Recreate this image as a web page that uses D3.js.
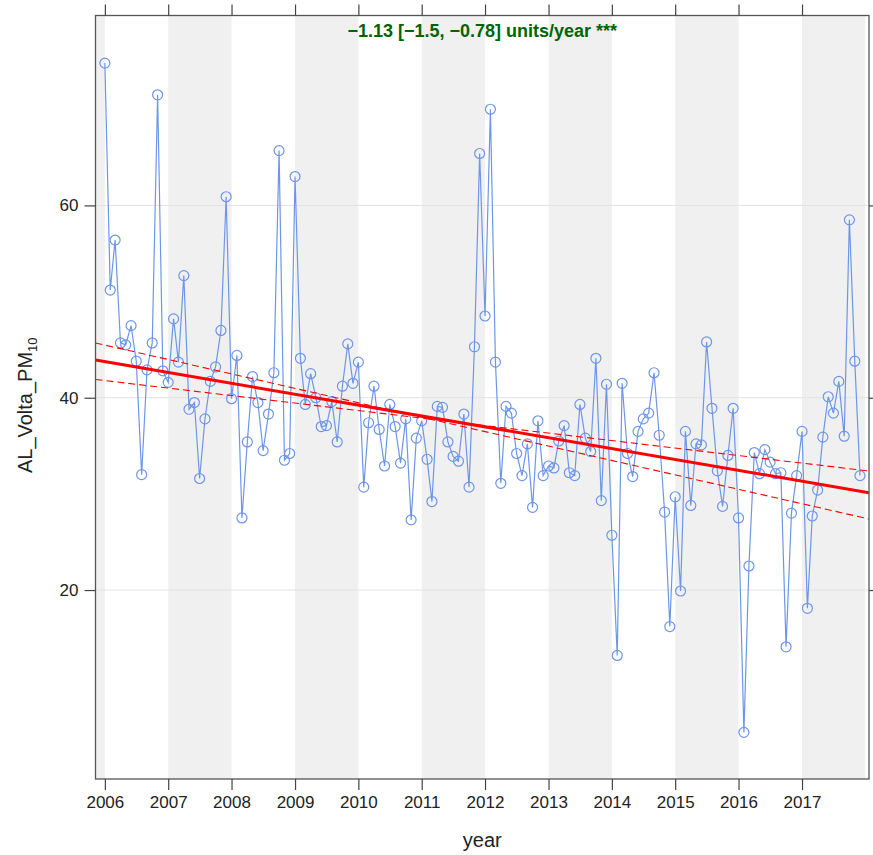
<!DOCTYPE html>
<html>
<head>
<meta charset="utf-8">
<script src="https://cdn.jsdelivr.net/npm/d3@7"></script>
<style>
  body { margin: 0; background: #fff; }
  svg { display: block; font-family: "Liberation Sans", Arial, sans-serif; }
</style>
</head>
<body>
<svg id="chart" width="873" height="855"></svg>
<script>
// ---- data ----
const years = [2006, 2007, 2008, 2009, 2010, 2011, 2012, 2013, 2014, 2015, 2016, 2017];
const values2006 = [74.8, 51.2, 56.4, 45.7, 45.5, 47.5, 43.8, 32.0, 42.9, 45.7, 71.5, 42.8];
const values2007 = [41.6, 48.2, 43.7, 52.7, 38.8, 39.5, 31.6, 37.8, 41.7, 43.2, 47.0, 60.9];
const values2008 = [39.9, 44.4, 27.5, 35.4, 42.2, 39.5, 34.5, 38.3, 42.6, 65.7, 33.5, 34.2];
const values2009 = [63.0, 44.1, 39.3, 42.5, 40.0, 37.0, 37.1, 39.6, 35.4, 41.2, 45.6, 41.5];
const values2010 = [43.7, 30.7, 37.4, 41.2, 36.7, 32.9, 39.3, 37.0, 33.2, 37.8, 27.3, 35.8];
const values2011 = [37.6, 33.6, 29.2, 39.1, 39.0, 35.4, 33.9, 33.4, 38.3, 30.7, 45.3, 65.4];
const values2012 = [48.5, 70.0, 43.7, 31.1, 39.1, 38.4, 34.2, 31.9, 35.2, 28.6, 37.6, 31.9];
const values2013 = [32.9, 32.7, 35.5, 37.1, 32.2, 31.9, 39.3, 35.8, 34.4, 44.1, 29.3, 41.4];
const values2014 = [25.7, 13.2, 41.5, 34.2, 31.8, 36.5, 37.8, 38.4, 42.6, 36.1, 28.1, 16.2];
const values2015 = [29.7, 19.9, 36.5, 28.8, 35.2, 35.1, 45.8, 38.9, 32.4, 28.7, 34.0, 38.9];
const values2016 = [27.5, 5.2, 22.5, 34.3, 32.1, 34.6, 33.3, 32.1, 32.2, 14.1, 28.0, 31.9];
const values2017 = [36.5, 18.1, 27.7, 30.4, 35.9, 40.1, 38.4, 41.7, 36.0, 58.5, 43.8, 31.9];
const monthlyValues = [values2006, values2007, values2008, values2009, values2010, values2011,
  values2012, values2013, values2014, values2015, values2016, values2017];

// Theil-Sen trend: slope and bounds (units/year), value at 2006-01-01, pivot years for CI lines
const trendSlope = -1.13;
const trendLower = -1.5;
const trendUpper = -0.78;
const trendAt2006 = 43.75;
const lowerPivot = 4.66;   // years after 2006 where lower-slope line meets trend
const upperPivot = 5.62;   // years after 2006 where upper-slope line meets trend

const yTicks = [20, 40, 60];
const titleText = "\u22121.13 [\u22121.5, \u22120.78] units/year ***";
const yLabelMain = "AL_Volta_PM";
const yLabelSub = "10";
const xLabel = "year";

// ---- layout ----
const L = 95.5, R = 869, T = 15.5, B = 779;
const svg = d3.select("#chart");

const data = [];
years.forEach((yr, i) => monthlyValues[i].forEach((v, m) => data.push({ date: new Date(yr, m, 1), value: v })));

const x = d3.scaleTime()
  .domain([new Date(2005, 10, 8), new Date(2018, 0, 22)])
  .range([L, R]);
const y = d3.scaleLinear().domain([0.35, 79.75]).range([B, T]);

// clip
svg.append("defs").append("clipPath").attr("id", "clip")
  .append("rect").attr("x", L).attr("y", T).attr("width", R - L).attr("height", B - T);

const plot = svg.append("g").attr("clip-path", "url(#clip)");

// alternating year bands (odd years + leading 2005 sliver)
const bandYears = [2005, 2007, 2009, 2011, 2013, 2015, 2017];
plot.selectAll("rect.band").data(bandYears).enter().append("rect")
  .attr("class", "band")
  .attr("x", d => x(new Date(d, 0, 1)))
  .attr("width", d => x(new Date(d + 1, 0, 1)) - x(new Date(d, 0, 1)))
  .attr("y", T).attr("height", B - T)
  .attr("fill", "#f0f0f0");

// horizontal grid
plot.selectAll("line.grid").data(yTicks).enter().append("line")
  .attr("x1", L).attr("x2", R)
  .attr("y1", d => y(d)).attr("y2", d => y(d))
  .attr("stroke", "#e2e2e2").attr("stroke-width", 1);

// series line
const lineColor = "#6d96e8";
plot.append("path").datum(data)
  .attr("fill", "none").attr("stroke", lineColor).attr("stroke-width", 1.2)
  .attr("d", d3.line().x(d => x(d.date)).y(d => y(d.value)));

plot.selectAll("circle.pt").data(data).enter().append("circle")
  .attr("cx", d => x(d.date)).attr("cy", d => y(d.value)).attr("r", 5)
  .attr("fill", "none").attr("stroke", lineColor).attr("stroke-width", 1.2);

// trend lines
const t0 = new Date(2006, 0, 1);
const yrsFrom = d => (d - t0) / (365.25 * 24 * 3600 * 1000);
const ends = x.domain();
function trendVal(t) { return trendAt2006 + trendSlope * t; }
function ciVal(slope, pivot, t) { return trendVal(pivot) + slope * (t - pivot); }

const lineGen = d3.line().x(d => x(d.date)).y(d => y(d.value));
plot.append("path")
  .datum(ends.map(d => ({ date: d, value: trendVal(yrsFrom(d)) })))
  .attr("d", lineGen).attr("stroke", "#ff0000").attr("stroke-width", 3).attr("fill", "none");
plot.append("path")
  .datum(ends.map(d => ({ date: d, value: ciVal(trendLower, lowerPivot, yrsFrom(d)) })))
  .attr("d", lineGen).attr("stroke", "#ff0000").attr("stroke-width", 1.1)
  .attr("stroke-dasharray", "7,4").attr("fill", "none");
plot.append("path")
  .datum(ends.map(d => ({ date: d, value: ciVal(trendUpper, upperPivot, yrsFrom(d)) })))
  .attr("d", lineGen).attr("stroke", "#ff0000").attr("stroke-width", 1.1)
  .attr("stroke-dasharray", "7,4").attr("fill", "none");

// frame
svg.append("rect").attr("x", L).attr("y", T).attr("width", R - L).attr("height", B - T)
  .attr("fill", "none").attr("stroke", "#555").attr("stroke-width", 1.3);

// axes
const tickDates = years.map(yr => new Date(yr, 0, 1));
const xAxisB = d3.axisBottom(x).tickValues(tickDates).tickFormat(d3.timeFormat("%Y")).tickSize(11).tickPadding(6);
const xAxisT = d3.axisTop(x).tickValues(tickDates).tickFormat("").tickSize(11);
const yAxisL = d3.axisLeft(y).tickValues(yTicks).tickSize(11).tickPadding(6);
const yAxisR = d3.axisRight(y).tickValues(yTicks).tickFormat("").tickSize(11);

function styleAxis(g) {
  g.select(".domain").remove();
  g.selectAll(".tick line").attr("stroke", "#444").attr("stroke-width", 1.2);
  g.selectAll(".tick text").attr("fill", "#222").attr("font-size", 17)
    .attr("font-family", "'Liberation Sans', Arial, sans-serif");
}
svg.append("g").attr("transform", `translate(0,${B})`).call(xAxisB).call(styleAxis);
svg.append("g").attr("transform", `translate(0,${T})`).call(xAxisT).call(styleAxis);
svg.append("g").attr("transform", `translate(${L},0)`).call(yAxisL).call(styleAxis);
svg.append("g").attr("transform", `translate(${R},0)`).call(yAxisR).call(styleAxis);

// title
svg.append("text").attr("x", (L + R) / 2).attr("y", 37)
  .attr("text-anchor", "middle").attr("font-weight", "bold").attr("font-size", 18)
  .attr("fill", "#006400").text(titleText);

// x label
svg.append("text").attr("x", (L + R) / 2).attr("y", 847)
  .attr("text-anchor", "middle").attr("font-size", 20).attr("fill", "#222").text(xLabel);

// y label
const yl = svg.append("text")
  .attr("transform", `translate(32,${(T + B) / 2 + 8}) rotate(-90)`)
  .attr("text-anchor", "middle").attr("font-size", 20).attr("fill", "#222");
yl.append("tspan").text(yLabelMain);
yl.append("tspan").attr("font-size", 13).attr("dy", 5).text(yLabelSub);
</script>
</body>
</html>
